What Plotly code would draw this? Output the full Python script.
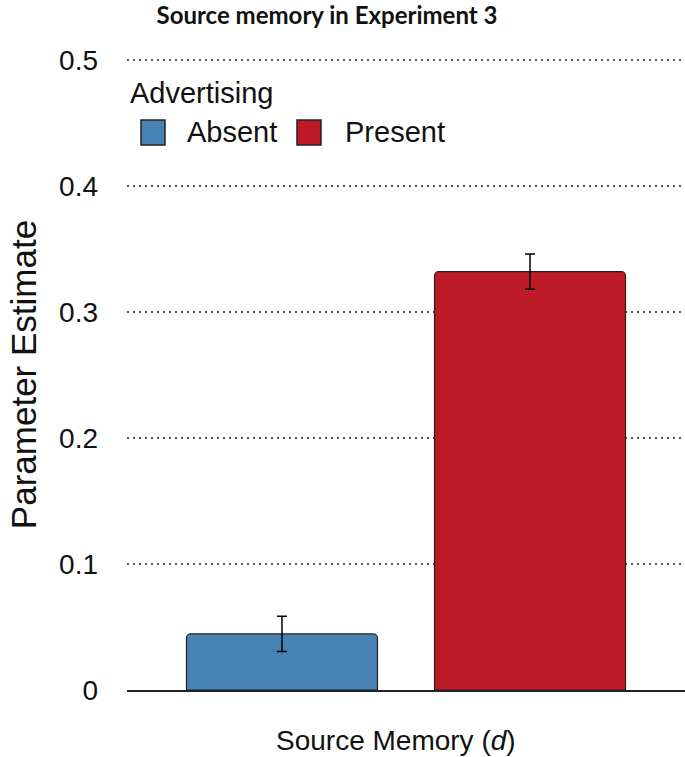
import plotly.graph_objects as go

category = ["Source Memory"]
groups = ["Absent", "Present"]
values = [0.0445, 0.332]
errors = [0.014, 0.014]
colors = ["#4682B4", "#BE1B28"]
y_ticks = [0, 0.1, 0.2, 0.3, 0.4, 0.5]
y_ticklabels = ["0", "0.1", "0.2", "0.3", "0.4", "0.5"]
legend_title = "Advertising"
x_title = "Source Memory (<i>d</i>)"
y_title = "Parameter Estimate"
chart_title = "Source memory in Experiment 3"

W, H = 685, 757
L, R, T, B = 127, 0, 59, 67

fig = go.Figure()
for g, v, e, c in zip(groups, values, errors, colors):
    fig.add_trace(go.Bar(
        name=g, x=category, y=[v], showlegend=False,
        marker=dict(color=c, line=dict(color="#222222", width=1.2), cornerradius=4),
        error_y=dict(type="data", array=[e], color="black", thickness=1.5, width=5),
    ))

# manual legend (larger swatches than Plotly's built-in legend allows)
legend_font = dict(family="Liberation Sans, Arial", size=29, color="#111")
fig.add_annotation(text=legend_title, xref="paper", yref="paper", x=0.0018, y=0.9461,
                   xanchor="left", yanchor="middle", showarrow=False, font=legend_font)
swatch_x = [(0.0251, 0.0681), (0.3047, 0.3477)]
label_x = [0.1039, 0.3871]
for g, c, (x0, x1), lx in zip(groups, colors, swatch_x, label_x):
    fig.add_shape(type="rect", xref="paper", yref="paper", x0=x0, x1=x1, y0=0.8637, y1=0.9033,
                  fillcolor=c, line=dict(color="#222222", width=1.5))
    fig.add_annotation(text=g, xref="paper", yref="paper", x=lx, y=0.8843,
                       xanchor="left", yanchor="middle", showarrow=False, font=legend_font)

fig.add_annotation(text=x_title, xref="paper", yref="paper", x=0.482, y=0, yshift=-50,
                   xanchor="center", yanchor="middle", showarrow=False,
                   font=dict(family="Liberation Sans, Arial", size=28, color="#111"))

fig.update_layout(
    width=W, height=H,
    margin=dict(l=L, r=R, t=T, b=B),
    paper_bgcolor="white", plot_bgcolor="white",
    barmode="group", bargap=0.111, bargroupgap=0.23,
    title=dict(text=chart_title, x=327 / W, xanchor="center",
               y=1 - 16 / H, yanchor="middle",
               font=dict(family="Lato", size=24, color="#111", weight=700)),
    font=dict(family="Liberation Sans, Arial", color="#111"),
    showlegend=False,
)
fig.update_xaxes(showticklabels=False, ticks="", showgrid=False,
                 showline=True, linecolor="#222", linewidth=1.5)
fig.update_yaxes(range=[0, 0.5008], tickvals=y_ticks, ticktext=y_ticklabels,
                 showgrid=True, gridcolor="#555", griddash="2px,4px", gridwidth=1.8,
                 zeroline=False, showline=False, ticks="", ticklabelstandoff=28,
                 tickfont=dict(size=28),
                 title=dict(text=y_title, font=dict(size=35), standoff=11))

fig.write_html("out.html", config={"displayModeBar": False},
               post_script="document.body.style.margin='0';")
